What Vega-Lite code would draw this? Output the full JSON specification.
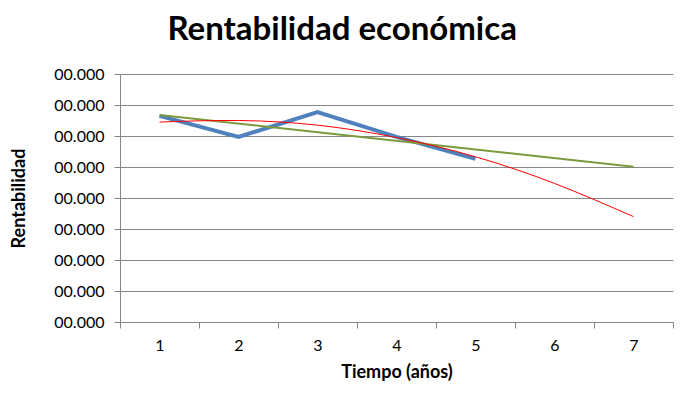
{
  "$schema": "https://vega.github.io/schema/vega-lite/v6.json",
  "width": 553,
  "height": 248,
  "autosize": {"type": "none"},
  "padding": {"left": 120, "top": 74, "right": 10, "bottom": 77},
  "background": "white",
  "title": {
    "text": "Rentabilidad económica",
    "font": "Lato",
    "fontSize": 33,
    "fontWeight": "bold",
    "color": "#000000",
    "anchor": "middle",
    "frame": "bounds",
    "offset": 19
  },
  "config": {
    "view": {"stroke": null},
    "axis": {
      "labelFont": "Lato",
      "titleFont": "Lato",
      "labelColor": "#000000",
      "titleColor": "#000000",
      "domainColor": "#868686",
      "tickColor": "#868686",
      "gridColor": "#868686",
      "gridOpacity": 1,
      "tickSize": 6
    }
  },
  "data": {
    "values": [
      {"anio": "1", "valor": 6.65, "serie": "real"},
      {"anio": "2", "valor": 5.97, "serie": "real"},
      {"anio": "3", "valor": 6.77, "serie": "real"},
      {"anio": "4", "valor": 5.97, "serie": "real"},
      {"anio": "5", "valor": 5.26, "serie": "real"},
      {"anio": "1", "valor": 6.68, "serie": "lineal"},
      {"anio": "7", "valor": 5.01, "serie": "lineal"},
      {"anio": "1", "valor": 6.45, "serie": "poli"},
      {"anio": "2", "valor": 6.5, "serie": "poli"},
      {"anio": "3", "valor": 6.35, "serie": "poli"},
      {"anio": "4", "valor": 5.95, "serie": "poli"},
      {"anio": "5", "valor": 5.33, "serie": "poli"},
      {"anio": "6", "valor": 4.47, "serie": "poli"},
      {"anio": "7", "valor": 3.4, "serie": "poli"}
    ]
  },
  "encoding": {
    "x": {
      "field": "anio",
      "type": "ordinal",
      "bandPosition": 0.5,
      "scale": {"type": "band", "domain": ["1", "2", "3", "4", "5", "6", "7"], "paddingInner": 0, "paddingOuter": 0},
      "axis": {
        "title": "Tiempo (años)",
        "titleFontSize": 18,
        "titleFontWeight": "bold",
        "titlePadding": 10,
        "labelFontSize": 16,
        "labelAngle": 0,
        "labelPadding": 9,
        "tickBand": "extent",
        "grid": false
      }
    },
    "y": {
      "field": "valor",
      "type": "quantitative",
      "scale": {"domain": [0, 8], "nice": false, "zero": true},
      "axis": {
        "title": "Rentabilidad",
        "titleFontSize": 18,
        "titleFontWeight": "bold",
        "titlePadding": 25,
        "values": [0, 1, 2, 3, 4, 5, 6, 7, 8],
        "labelExpr": "'00.000'",
        "labelFontSize": 16,
        "labelPadding": 10,
        "grid": true
      }
    }
  },
  "layer": [
    {
      "transform": [{"filter": "datum.serie === 'real'"}],
      "mark": {"type": "line", "color": "#4F81BD", "strokeWidth": 4}
    },
    {
      "transform": [{"filter": "datum.serie === 'lineal'"}],
      "mark": {"type": "line", "color": "#7A9A3D", "strokeWidth": 2}
    },
    {
      "transform": [{"filter": "datum.serie === 'poli'"}],
      "mark": {"type": "line", "color": "#FF0000", "strokeWidth": 1, "interpolate": "natural"}
    }
  ]
}
